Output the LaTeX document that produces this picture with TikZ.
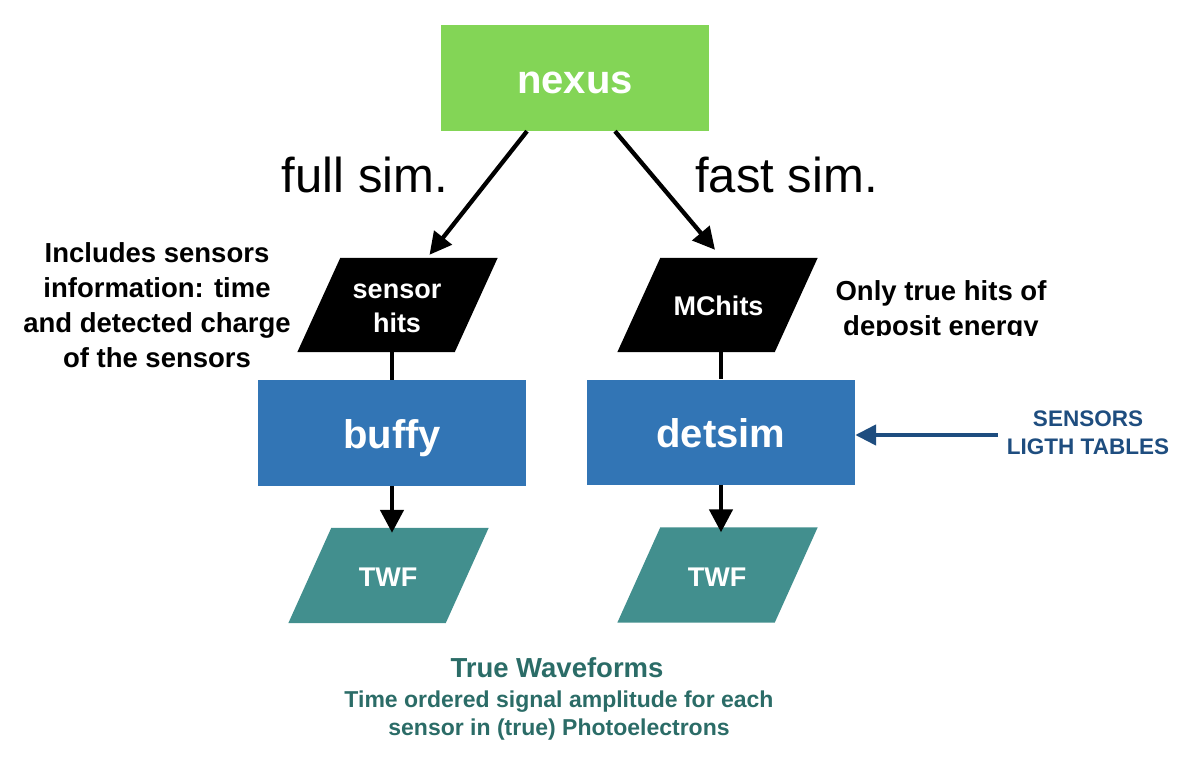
\documentclass[tikz,border=0pt]{standalone}
\usepackage{fontspec}
\setmainfont{Liberation Sans}
\usetikzlibrary{arrows.meta,calc}
\definecolor{nexusgreen}{HTML}{83D556}
\definecolor{boxblue}{HTML}{3275B5}
\definecolor{twfteal}{HTML}{428F8E}
\definecolor{darkblue}{HTML}{1E4D7F}
\definecolor{wftext}{HTML}{2B6C67}
\begin{document}
\begin{tikzpicture}[x=1pt,y=-1pt,
  procbox/.style={rectangle, inner sep=0pt, minimum width=268pt, minimum height=106pt,
    text=white, font=\fontsize{40}{48}\selectfont\bfseries, text height=31pt, text depth=0pt},
  pframe/.style={rectangle, draw=none, inner sep=0pt, minimum width=200pt, minimum height=94pt},
  ptext/.style={text=white, font=\fontsize{27}{34}\selectfont\bfseries, align=center, inner sep=0pt},
  flow/.style={line width=4.3pt, -{Triangle[length=22pt,width=22pt]}},
  vflow/.style={line width=4.6pt, -{Triangle[length=23pt,width=23pt]}},
  link/.style={line width=4.6pt},
  note/.style={font=\fontsize{27.5}{35}\selectfont\bfseries, align=center, inner sep=0pt},
  simlabel/.style={font=\fontsize{49}{58}\selectfont, anchor=base, inner sep=0pt}
]
\useasboundingbox (0,0) rectangle (1186,768);

% process boxes
\node[procbox, fill=nexusgreen] (nexus) at (575,78) {nexus};
\node[procbox, fill=boxblue] (buffy) at (392,433) {buffy};
\node[procbox, fill=boxblue, minimum height=105pt] (detsim) at (721,432) {detsim};

% parallelogram frames
\node[pframe] (sh) at (397.5,305) {};
\node[pframe] (mc) at (717.5,305) {};
\node[pframe, minimum height=95pt] (twfa) at (388.5,575.5) {};
\node[pframe, minimum height=95pt] (twfb) at (717.5,575) {};
\foreach \n/\c in {sh/black, mc/black, twfa/twfteal, twfb/twfteal}
  \fill[\c] ([xshift=43pt]\n.north west) -- (\n.north east)
     -- ([xshift=-43pt]\n.south east) -- (\n.south west) -- cycle;

\node[ptext] (shtxt) at (397,308.5) {sensor\\hits};
\node[ptext, anchor=base] (mctxt) at (718.5,315) {MChits};
\node[ptext, anchor=base] (twfatxt) at (388,586) {TWF};
\node[ptext, anchor=base] (twfbtxt) at (717,586) {TWF};

% labels
\node[simlabel] (fullsim) at (365,192) {full sim.};
\node[simlabel] (fastsim) at (786.5,192) {fast sim.};
\node[note] (inclnote) at (157,305) {Includes sensors\\information: time\\and detected charge\\of the sensors};
\begin{scope}
  \clip (780,240) rectangle (1120,335);
  \node[note] (onlynote) at (941,310.5) {Only true hits of\\deposit energy};
\end{scope}
\node[font=\fontsize{22.5}{28}\selectfont\bfseries, text=darkblue, align=center, inner sep=9pt] (tables) at (1088,433) {SENSORS\\LIGTH TABLES};
\node[font=\fontsize{27.5}{33}\selectfont\bfseries, text=wftext, anchor=base, inner sep=0pt] (wftitle) at (557,677) {True Waveforms};
\node[font=\fontsize{23}{28}\selectfont\bfseries, text=wftext, align=center, inner sep=0pt] (wfdesc) at (559,716) {Time ordered signal amplitude for each\\sensor in (true) Photoelectrons};

% connectors
\draw[flow] ([xshift=-48pt]nexus.south) -- ([xshift=32pt,yshift=3pt]sh.north);
\draw[flow] ([xshift=40pt]nexus.south) -- ([xshift=-2.5pt,yshift=8pt]mc.north);
\draw[link] (buffy.north |- sh.south) -- (buffy.north);
\draw[link] (detsim.north |- mc.south) -- (detsim.north);
\draw[vflow] (buffy.south) -- ([yshift=-5pt]buffy.south |- twfa.north);
\draw[vflow] (detsim.south) -- ([yshift=-5pt]detsim.south |- twfb.north);
\draw[darkblue, line width=4.6pt, -{Triangle[length=21pt,width=20pt]}]
  ([yshift=-2pt]tables.west) -- ([yshift=-2pt]tables.west -| detsim.east);
\end{tikzpicture}
\end{document}
